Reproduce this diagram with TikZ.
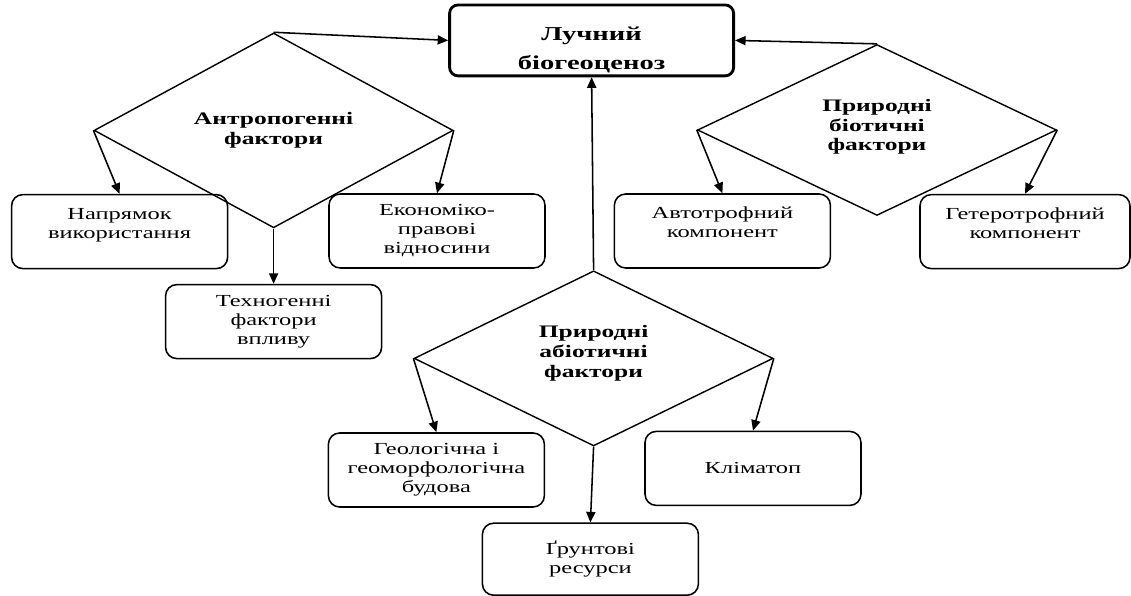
\documentclass[tikz,border=0pt]{standalone}
\usepackage{fontspec}
\setmainfont{Liberation Serif}[FakeStretch=1.45, BoldFont={Liberation Serif Bold}]
\usetikzlibrary{arrows.meta, shapes.geometric, positioning}

\begin{document}
\begin{tikzpicture}[
    >={Triangle[length=7.5pt, width=6.5pt]},
    % Define styles for the different node types
    mainbox/.style={rectangle, rounded corners=6pt, draw=black, line width=2pt, align=center, minimum width=7.1cm, minimum height=1.65cm, inner sep=2pt, font=\fontsize{14}{21}\selectfont\bfseries},
    factorbox/.style={rectangle, rounded corners=8pt, draw=black, line width=1.1pt, align=center, minimum width=5.4cm, minimum height=1.85cm, inner sep=2pt, font=\fontsize{12}{13.5}\selectfont},
    factordiamond/.style={diamond, draw=black, line width=1pt, align=center, minimum width=8.975cm, minimum height=3.9cm, inner sep=0pt, font=\fontsize{12.5}{14}\selectfont\bfseries},
]

% picture frame
\useasboundingbox (0,0) rectangle (28.275,-14.9);

% -------------------------
% Central Node
% -------------------------
\node (meadow) [mainbox] at (14.79,-1.01) {\rule{0pt}{23pt}Лучний\\біогеоценоз};

% -------------------------
% Factor Diamonds
% -------------------------
\node (anthro) [factordiamond] at (6.84,-3.26) {Антропогенні\\фактори};
\node (biotic) [factordiamond] at (21.925,-3.25) {Природні\\біотичні\\фактори\rule[-7pt]{0pt}{0pt}};
\node (abiotic) [factordiamond] at (14.84,-8.96) {Природні\\абіотичні\\фактори\rule[-10pt]{0pt}{0pt}};

% -------------------------
% Component Boxes
% -------------------------
\node (usage) [factorbox] at (2.99,-5.79) {Напрямок\\використання\rule[-12pt]{0pt}{0pt}};
\node (econ) [factorbox] at (10.925,-5.775) {Економіко-\\правові\\відносини};
\node (techno) [factorbox] at (6.84,-8.04) {Техногенні\\фактори\\впливу};

\node (autotroph) [factorbox] at (18.06,-5.775) {Автотрофний\\компонент\rule[-12pt]{0pt}{0pt}};
\node (heterotroph) [factorbox, minimum width=5.25cm] at (25.625,-5.79) {Гетеротрофний\\компонент\rule[-12pt]{0pt}{0pt}};

\node (geology) [factorbox] at (10.91,-11.75) {Геологічна і\\геоморфологічна\\будова};
\node (climate) [factorbox] at (18.825,-11.71) {Кліматоп};
\node (soil) [factorbox, minimum height=1.8cm] at (14.76,-13.98) {Ґрунтові\\ресурси};

% -------------------------
% Arrow Connections
% -------------------------

% Factors to biogeocenosis
\draw[->, line width=1.1pt] (anthro.north) -- (meadow.west);
\draw[->, line width=1.1pt] (biotic.north) -- (meadow.east);
\draw[->, line width=1.1pt] (abiotic.north) -- (meadow.south);

% Anthropogenic factors
\draw[->, line width=1.1pt] (anthro.west) -- (usage.north);
\draw[->, line width=1.1pt] (anthro.east) -- (econ.north);
\draw[->, line width=1.1pt] (anthro.south) -- (techno.north);

% Biotic factors
\draw[->, line width=1.1pt] (biotic.west) -- (autotroph.north);
\draw[->, line width=1.1pt] (biotic.east) -- (heterotroph.north);

% Abiotic factors
\draw[->, line width=1.1pt] (abiotic.west) -- (geology.north);
\draw[->, line width=1.1pt] (abiotic.east) -- (climate.north);
\draw[->, line width=1.1pt] (abiotic.south) -- (soil.north);

\end{tikzpicture}
\end{document}
